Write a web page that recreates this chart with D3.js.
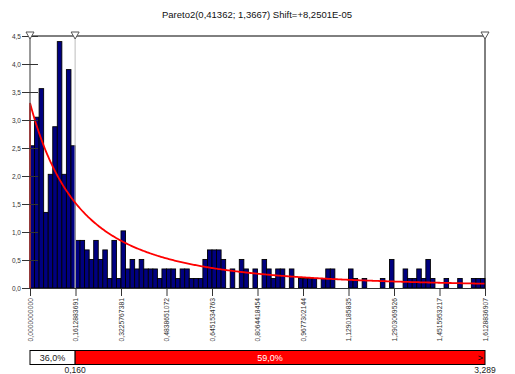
<!DOCTYPE html>
<html><head><meta charset="utf-8">
<script src="https://cdn.jsdelivr.net/npm/d3@7"></script>
<style>body{margin:0;background:#fff}svg{display:block;font-family:"Liberation Sans",Arial,sans-serif}</style>
</head><body><svg id="c" width="515" height="374"></svg>
<script>
const title = "Pareto2(0,41362; 1,3667) Shift=+8,2501E-05";
const xMax = 1.6128836907;
const binWidth = 0.016128836907;
const density = [
 2.54,3.05,3.56,1.35,2.03,2.88,4.40,2.03,3.90,2.54,
 0.85,0.85,0.68,0.51,0.85,0.51,0.68,0.17,0.85,0.17,
 1.02,0.34,0.51,0.34,0.51,0.34,0.34,0.34,0.17,0.34,
 0.34,0.34,0.17,0.34,0.34,0.17,0.17,0.17,0.51,0.68,
 0.68,0.68,0.51,0,0.34,0,0.51,0.34,0,0.34,
 0,0.51,0.34,0.17,0.34,0.34,0,0.34,0,0.17,
 0.17,0.17,0.17,0,0.17,0.34,0.34,0,0,0,
 0.34,0.17,0,0.17,0,0,0,0.17,0,0.51,
 0,0,0.34,0.17,0.17,0.34,0.17,0.51,0.17,0,
 0,0.17,0,0,0.17,0,0,0.17,0.17,0.17
];
const fitParams = {scale:0.41362, shape:1.3667, shift:8.2501e-05};
const yTicks = [0,0.5,1,1.5,2,2.5,3,3.5,4,4.5];
const yTickLabels = ["0,0","0,5","1,0","1,5","2,0","2,5","3,0","3,5","4,0","4,5"];
const xTickLabels = ["0,0000000000","0,1612883691","0,3225767381","0,4838651072","0,6451534763","0,8064418454","0,9677302144","1,1290185835","1,2903069526","1,4515953217","1,6128836907"];
const markers = [0, 0.160];
const leftPct = "36,0%", midPct = "59,0%";
const leftVal = "0,160", rightVal = "3,289";

const svg = d3.select("#c");
const x = d3.scaleLinear().domain([0,xMax]).range([30,485]);
const y = d3.scaleLinear().domain([0,4.5]).range([288,36]);

svg.append("text").attr("x",257).attr("y",18).attr("text-anchor","middle")
  .attr("font-size",9.5).attr("fill","#111").text(title);

// bars
const binData = density.map((d,i)=>({i,d})).filter(o=>o.d>0);
svg.append("g").selectAll("rect").data(binData).join("rect")
  .attr("x",o=>x(o.i*binWidth)).attr("y",o=>y(o.d))
  .attr("width",o=>x((o.i+1)*binWidth)-x(o.i*binWidth)).attr("height",o=>y(0)-y(o.d))
  .attr("fill","#000080").attr("stroke","#000").attr("stroke-width",0.9);

// marker line at 0.160 (light)
svg.append("line").attr("x1",x(markers[1])).attr("x2",x(markers[1])).attr("y1",36).attr("y2",288)
  .attr("stroke","#c8c8c8").attr("stroke-width",1.2);

// pdf curve
const pts = [[0,0],[fitParams.shift,0]];
for(let i=0;i<=400;i++){
  const xv = fitParams.shift + i*(xMax-fitParams.shift)/400;
  const z = xv - fitParams.shift;
  const f = fitParams.shape*Math.pow(fitParams.scale,fitParams.shape)/Math.pow(z+fitParams.scale,fitParams.shape+1);
  pts.push([xv,f]);
}
svg.append("path").attr("d",d3.line().x(d=>x(d[0])).y(d=>y(d[1]))(pts))
  .attr("fill","none").attr("stroke","#ff0000").attr("stroke-width",1.8);

// frame
svg.append("line").attr("x1",30).attr("x2",485).attr("y1",36).attr("y2",36).attr("stroke","#000");
svg.append("line").attr("x1",485).attr("x2",485).attr("y1",36).attr("y2",288).attr("stroke","#000");
svg.append("line").attr("x1",30).attr("x2",30).attr("y1",36).attr("y2",288).attr("stroke","#555").attr("stroke-width",1.2);
svg.append("line").attr("x1",30).attr("x2",485).attr("y1",288.5).attr("y2",288.5).attr("stroke","#333");

// y axis
const ya = svg.append("g").attr("transform","translate(30,0)")
  .call(d3.axisLeft(y).tickValues(yTicks).tickSize(8).tickFormat((d,i)=>yTickLabels[i]).tickPadding(1));
ya.select(".domain").remove();
ya.selectAll(".tick line").attr("x2",8).attr("x1",-8).attr("stroke","#333");
ya.selectAll(".tick text").attr("font-size",6.5).attr("fill","#333").attr("x",-9)
  .attr("font-family","Liberation Sans, Arial, sans-serif");

// x axis
const xa = svg.append("g").attr("transform","translate(0,288)")
  .call(d3.axisBottom(x).tickValues(d3.range(11).map(i=>i*xMax/10)).tickSize(8).tickFormat((d,i)=>xTickLabels[i]));
xa.select(".domain").remove();
xa.selectAll(".tick line").attr("stroke","#333");
xa.selectAll(".tick text").attr("font-size",6.8).attr("fill","#333")
  .attr("font-family","Liberation Sans, Arial, sans-serif")
  .attr("transform","rotate(-90)").attr("text-anchor","end").attr("dy","0.32em").attr("x",-10).attr("y",0);

// triangles
[x(markers[0]), x(markers[1]), 485].forEach(px=>{
  svg.append("path").attr("d",`M${px-4},32 L${px+4},32 L${px},39 Z`)
    .attr("fill","#fff").attr("stroke","#555").attr("stroke-width",1);
});

// bottom bar
const bx0=30, bx1=x(markers[1]), bx2=485;
svg.append("rect").attr("x",bx0).attr("y",350.5).attr("width",bx1-bx0).attr("height",14).attr("fill","#fff").attr("stroke","#000");
svg.append("rect").attr("x",bx1).attr("y",350.5).attr("width",bx2-bx1).attr("height",14).attr("fill","#ff0000").attr("stroke","#000");
svg.append("text").attr("x",(bx0+bx1)/2).attr("y",361).attr("text-anchor","middle").attr("font-size",9).attr("fill","#222").text(leftPct);
svg.append("text").attr("x",(bx1+bx2)/2-10).attr("y",361).attr("text-anchor","middle").attr("font-size",9).attr("fill","#fff").text(midPct);
svg.append("text").attr("x",bx2-2).attr("y",361).attr("text-anchor","end").attr("font-size",9).attr("fill","#000").text(">");
svg.append("text").attr("x",bx1).attr("y",373).attr("text-anchor","middle").attr("font-size",8.5).attr("fill","#222").text(leftVal);
svg.append("text").attr("x",bx2).attr("y",373).attr("text-anchor","middle").attr("font-size",8.5).attr("fill","#222").text(rightVal);
</script></body></html>
